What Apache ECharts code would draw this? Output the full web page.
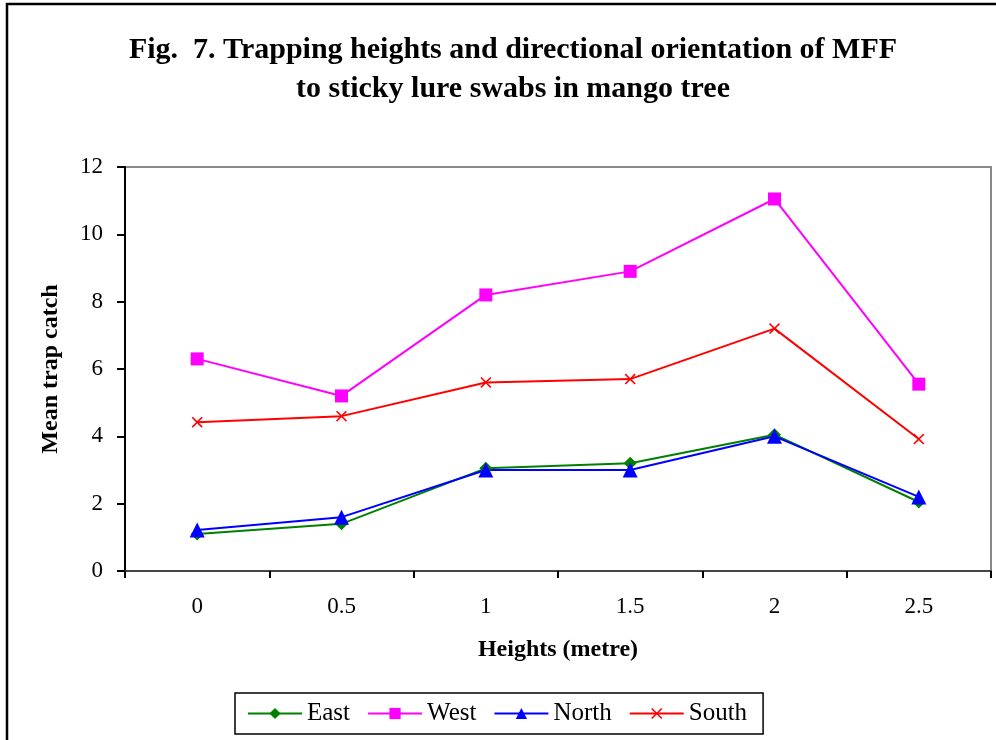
<!DOCTYPE html>
<html>
<head>
<meta charset="utf-8">
<script src="https://cdn.jsdelivr.net/npm/echarts@6/dist/echarts.min.js"></script>
<style>
  html, body { margin: 0; padding: 0; background: #fff; }
  #chart { width: 996px; height: 740px; }
</style>
</head>
<body>
<div id="chart"></div>
<script>
// Trap heights (metre) and mean catch per direction
const heights = ['0', '0.5', '1', '1.5', '2', '2.5'];
const east  = [1.1, 1.4, 3.05, 3.2, 4.05, 2.05];
const west  = [6.3, 5.2, 8.2, 8.9, 11.05, 5.55];
const north = [1.22, 1.6, 3.0, 3.0, 4.0, 2.2];
const south = [4.42, 4.6, 5.6, 5.7, 7.2, 3.92];
const yTicks = [0, 2, 4, 6, 8, 10, 12];

const serif = '"Liberation Serif", "Times New Roman", serif';
const crossPath = 'path://M0,1L1,0L5,4L9,0L10,1L6,5L10,9L9,10L5,6L1,10L0,9L4,5Z';

function lineSeries(name, data, color, symbol, size) {
  return {
    name: name,
    type: 'line',
    data: data,
    symbol: symbol,
    symbolSize: size,
    showAllSymbol: true,
    lineStyle: { color: color, width: 2 },
    itemStyle: { color: color },
    emphasis: { disabled: true },
    animation: false
  };
}

const chart = echarts.init(document.getElementById('chart'));
chart.setOption({
  backgroundColor: '#fff',
  animation: false,
  title: {
    text: 'Fig.  7. Trapping heights and directional orientation of MFF\nto sticky lure swabs in mango tree',
    left: 508,
    top: 26,
    textAlign: 'center',
    textStyle: {
      fontFamily: serif,
      fontWeight: 'bold',
      fontSize: 30,
      lineHeight: 39,
      color: '#000'
    }
  },
  graphic: [{
    type: 'rect',
    shape: { x: 7, y: 4, width: 1000, height: 760 },
    style: { fill: 'none', stroke: '#000', lineWidth: 2.5 },
    silent: true,
    z: -1
  }],
  legend: {
    left: 235,
    top: 693,
    orient: 'horizontal',
    itemWidth: 54,
    itemHeight: 14,
    itemGap: 17,
    padding: [8, 16, 8, 12],
    borderColor: '#000',
    borderWidth: 1.5,
    textStyle: { fontFamily: serif, fontSize: 25, color: '#000' },
    data: ['East', 'West', 'North', 'South']
  },
  grid: {
    left: 125,
    right: 5,
    top: 167,
    bottom: 169,
    show: true,
    borderColor: '#888',
    borderWidth: 2,
    backgroundColor: '#fff'
  },
  xAxis: {
    type: 'category',
    data: heights,
    boundaryGap: true,
    name: 'Heights (metre)',
    nameLocation: 'middle',
    nameGap: 67,
    nameTextStyle: { fontFamily: serif, fontWeight: 'bold', fontSize: 24, color: '#000' },
    axisLine: { lineStyle: { color: '#444', width: 2 } },
    axisTick: { show: true, length: 7, interval: 0, lineStyle: { color: '#000', width: 2 } },
    axisLabel: { fontFamily: serif, fontSize: 23, color: '#000', margin: 24, interval: 0 },
    splitLine: { show: false }
  },
  yAxis: {
    type: 'value',
    min: yTicks[0],
    max: yTicks[yTicks.length - 1],
    interval: 2,
    name: 'Mean trap catch',
    nameLocation: 'middle',
    nameGap: 62,
    nameTextStyle: { fontFamily: serif, fontWeight: 'bold', fontSize: 24, color: '#000' },
    axisLine: { show: true, lineStyle: { color: '#000', width: 2 } },
    axisTick: { show: true, length: 8, lineStyle: { color: '#000', width: 2 } },
    axisLabel: { fontFamily: serif, fontSize: 23, color: '#000', margin: 22 },
    splitLine: { show: false }
  },
  series: [
    lineSeries('East', east, '#008000', 'diamond', 13),
    lineSeries('West', west, '#ff00ff', 'rect', 13),
    lineSeries('North', north, '#0000ff', 'triangle', 15),
    lineSeries('South', south, '#ff0000', crossPath, 11)
  ]
});
</script>
</body>
</html>
